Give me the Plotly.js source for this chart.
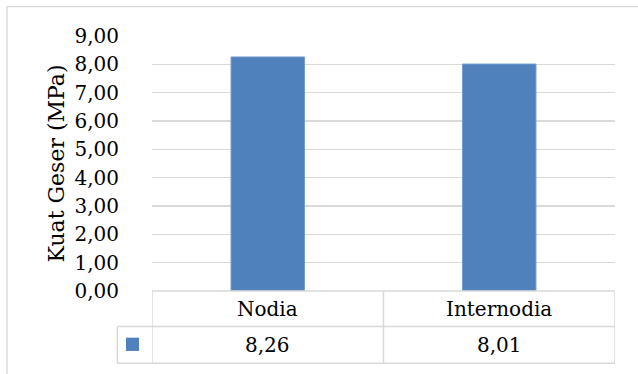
<!DOCTYPE html>
<html>
<head>
<meta charset="utf-8">
<script src="https://cdn.plot.ly/plotly-3.0.1.min.js"></script>
<style>
  html, body { margin: 0; padding: 0; background: #ffffff; }
  #chart { width: 638px; height: 374px; }
</style>
</head>
<body>
<div id="chart"></div>
<script>
// Shear strength of bamboo samples, node vs. internode
const categories = ['Nodia', 'Internodia'];
const shearStrength = [8.26, 8.01];
const yTickValues = [0, 1, 2, 3, 4, 5, 6, 7, 8, 9];

const barColor = '#4F81BD';
const gridColor = '#D9D9D9';
const fontFamily = 'DejaVu Serif, serif';

// Format a number with a decimal comma, two decimals
const fmt = v => v.toFixed(2).replace('.', ',');

// Data table geometry (paper units, relative to the plot area)
const row1Bottom = -0.139;
const row2Bottom = -0.283;
const keyLeft = -0.075;

const shapes = [];
// chart-area border (top and left edges visible)
shapes.push({ type: 'rect', xref: 'paper', yref: 'paper',
  x0: -0.3132, x1: 1.2, y0: -0.5, y1: 1.1155,
  line: { color: gridColor, width: 1.3 }, layer: 'below' });
// data table: horizontal rules
shapes.push({ type: 'line', xref: 'x', yref: 'paper', x0: -0.5, x1: categories.length - 0.5,
  y0: 0, y1: 0, line: { color: gridColor, width: 1.5 } });
shapes.push({ type: 'line', xref: 'paper', yref: 'paper', x0: keyLeft, x1: 1,
  y0: row1Bottom, y1: row1Bottom, line: { color: gridColor, width: 1.5 } });
shapes.push({ type: 'line', xref: 'paper', yref: 'paper', x0: keyLeft, x1: 1,
  y0: row2Bottom, y1: row2Bottom, line: { color: gridColor, width: 1.5 } });
// data table: vertical rules at category boundaries
for (let i = 0; i <= categories.length; i++) {
  shapes.push({ type: 'line', xref: 'x', yref: 'paper', x0: i - 0.5, x1: i - 0.5,
    y0: 0, y1: row2Bottom, line: { color: gridColor, width: 1.5 } });
}
// legend-key cell edge
shapes.push({ type: 'line', xref: 'paper', yref: 'paper', x0: keyLeft, x1: keyLeft,
  y0: row1Bottom, y1: row2Bottom, line: { color: gridColor, width: 1.5 } });
// legend key square
shapes.push({ type: 'rect', xref: 'paper', yref: 'paper',
  x0: -0.0562, x1: -0.0281, y0: -0.183, y1: -0.235,
  fillcolor: barColor, line: { width: 0 } });

const annotations = [];
categories.forEach((c, i) => {
  annotations.push({ xref: 'x', yref: 'paper', x: c, y: row1Bottom / 2,
    text: c, showarrow: false, xanchor: 'center', yanchor: 'middle',
    font: { family: fontFamily, size: 20, color: '#000' } });
  annotations.push({ xref: 'x', yref: 'paper', x: c, y: (row1Bottom + row2Bottom) / 2,
    text: fmt(shearStrength[i]), showarrow: false, xanchor: 'center', yanchor: 'middle',
    font: { family: fontFamily, size: 20, color: '#000' } });
});

const trace = {
  type: 'bar',
  x: categories,
  y: shearStrength,
  marker: { color: barColor, line: { color: '#729ACB', width: 1 } },
  hoverinfo: 'skip'
};

const layout = {
  width: 638,
  height: 374,
  margin: { l: 152, r: 23, t: 35.5, b: 83 },
  paper_bgcolor: '#ffffff',
  plot_bgcolor: '#ffffff',
  separators: ',.',
  bargap: 0.683,
  showlegend: false,
  font: { family: fontFamily, color: '#000' },
  xaxis: {
    type: 'category',
    range: [-0.5, categories.length - 0.5],
    showticklabels: false,
    showgrid: false,
    zeroline: false,
    showline: false,
    fixedrange: true
  },
  yaxis: {
    range: [0, 9],
    tickvals: yTickValues,
    ticktext: yTickValues.map(fmt),
    ticks: 'outside',
    ticklen: 28,
    tickcolor: 'rgba(0,0,0,0)',
    tickfont: { family: fontFamily, size: 20, color: '#000' },
    showgrid: true,
    gridcolor: gridColor,
    gridwidth: 1.3,
    zeroline: false,
    showline: false,
    automargin: false,
    title: { text: 'Kuat Geser (MPa)', standoff: 3,
      font: { family: fontFamily, size: 22, color: '#000' } },
    fixedrange: true
  },
  shapes: shapes,
  annotations: annotations
};

Plotly.newPlot('chart', [trace], layout, { displayModeBar: false, staticPlot: true });
</script>
</body>
</html>
